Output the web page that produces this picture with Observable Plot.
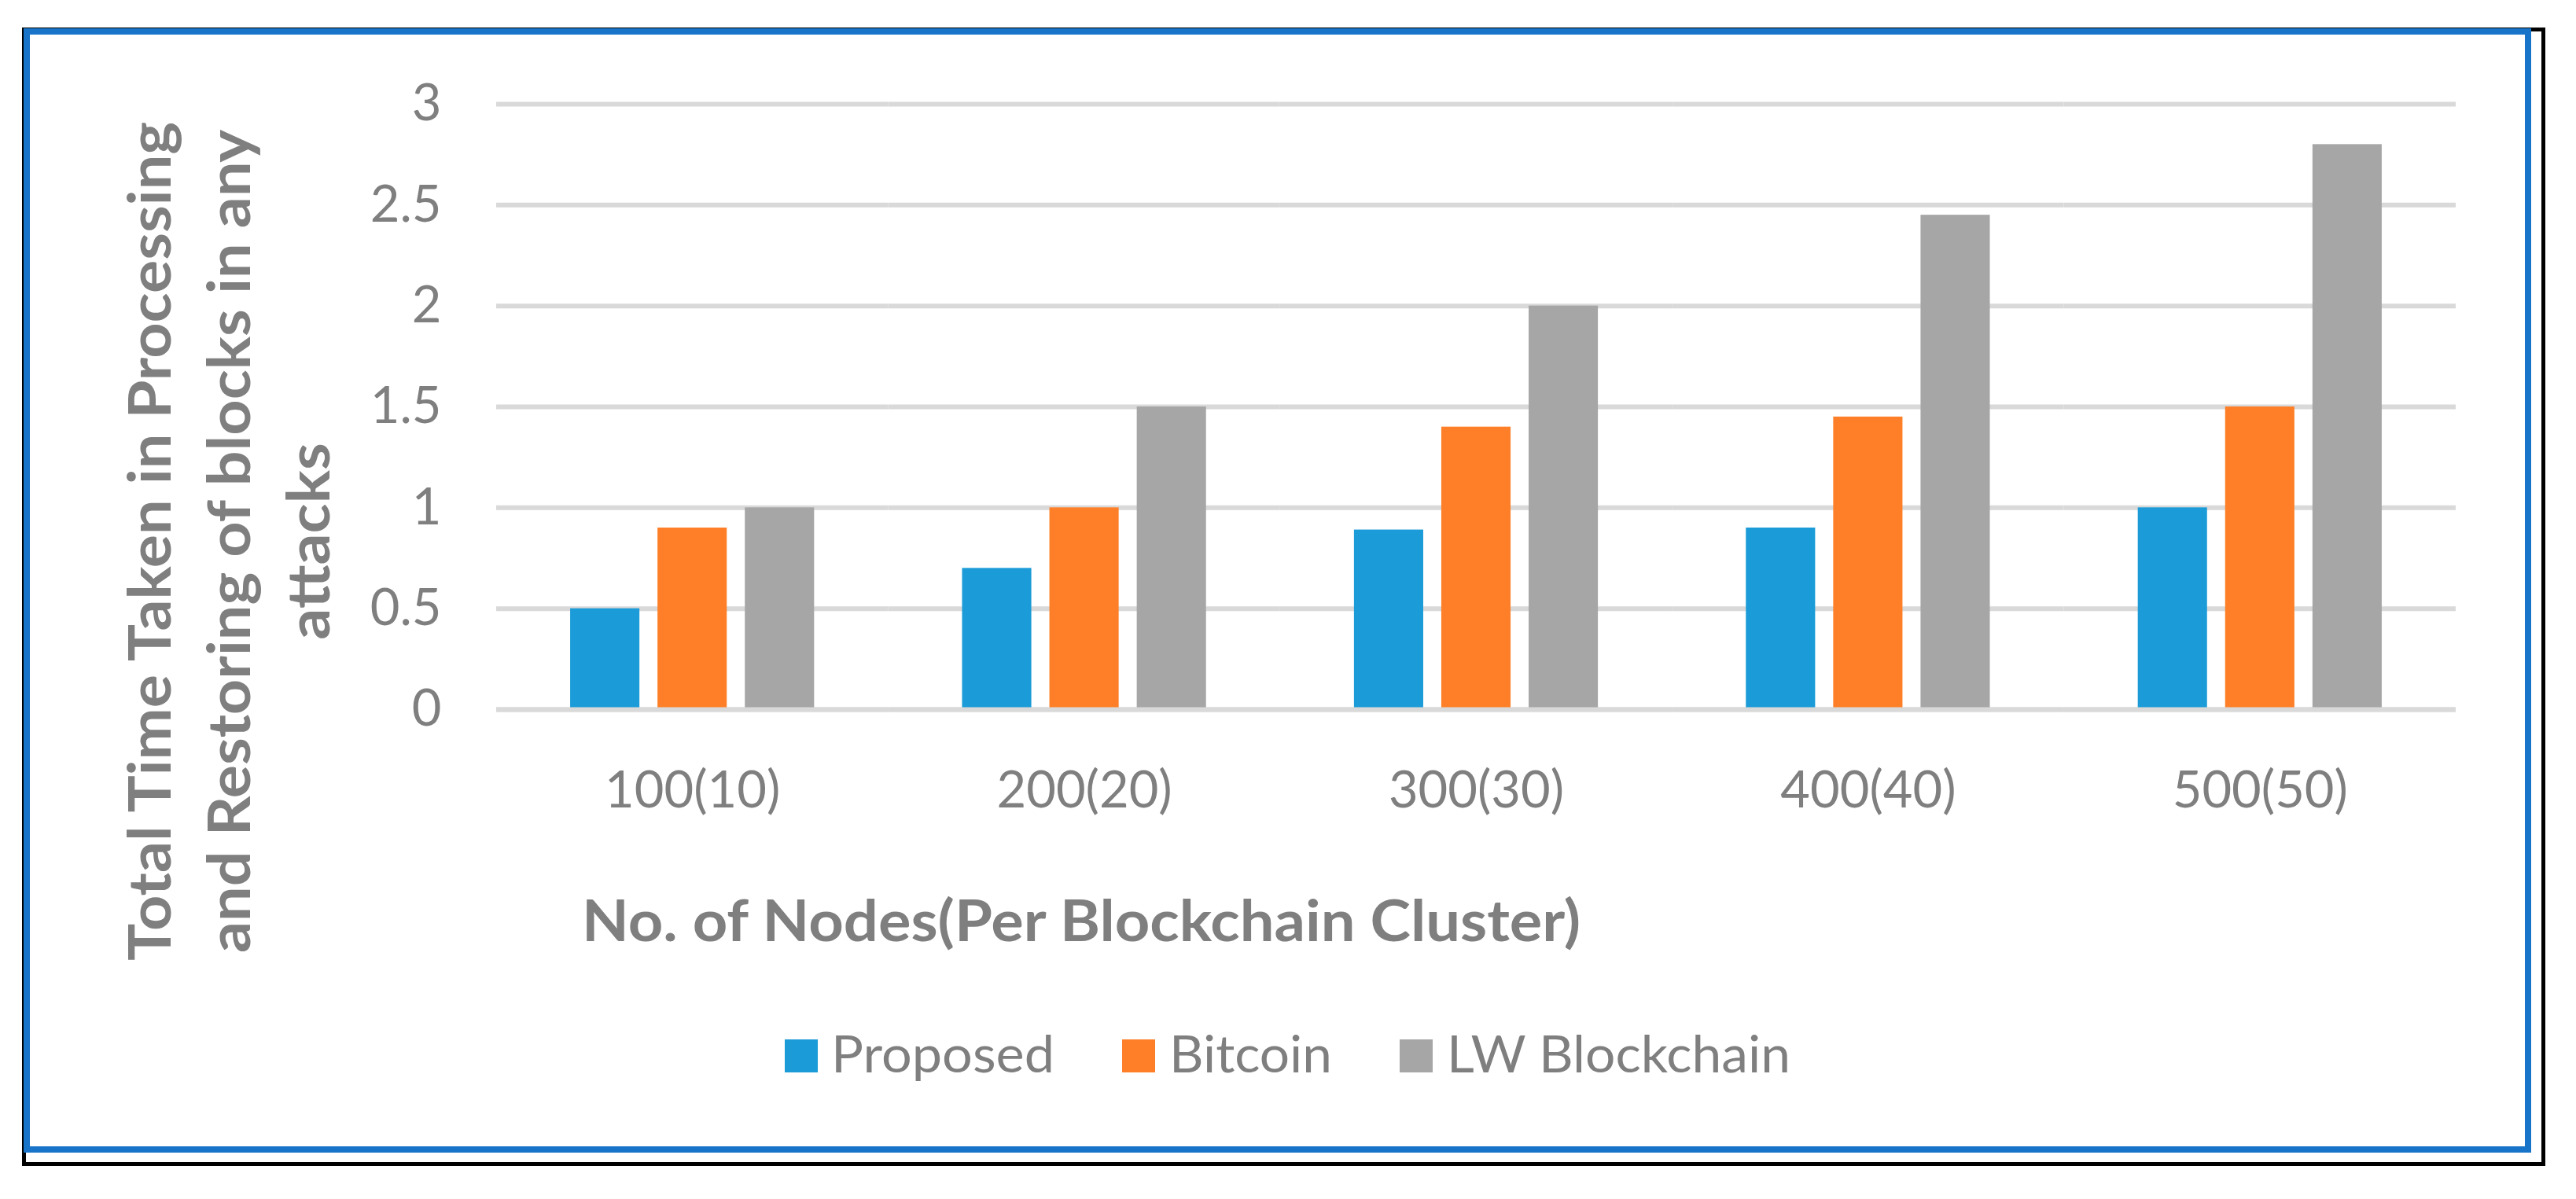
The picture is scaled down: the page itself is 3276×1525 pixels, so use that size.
<!DOCTYPE html>
<html><head><meta charset="utf-8">
<script src="https://cdn.jsdelivr.net/npm/d3@7"></script>
<script src="https://cdn.jsdelivr.net/npm/@observablehq/plot@0.6"></script>
<style>
html,body{margin:0;padding:0;background:#fff;}
#wrap{position:relative;width:3276px;height:1525px;overflow:hidden;background:#fff;font-family:Lato,"Open Sans",sans-serif;color:#7f7f7f;}
.abs{position:absolute;white-space:nowrap;}
.mk{display:inline-block;width:0;height:0;}
</style></head><body><div id="wrap"></div>
<script>
// ---- data ----
const categories = ["100(10)", "200(20)", "300(30)", "400(40)", "500(50)"];
const series = ["Proposed", "Bitcoin", "LW Blockchain"];
const proposed = [0.5, 0.7, 0.89, 0.9, 1.0];
const bitcoin = [0.9, 1.0, 1.4, 1.45, 1.5];
const lwBlockchain = [1.0, 1.5, 2.0, 2.45, 2.8];
const yTicks = [0, 0.5, 1, 1.5, 2, 2.5, 3];
const colors = ["#1b9bd7", "#fe7f27", "#a6a6a6"];
const yTitleLines = ["Total Time Taken in Processing", "and Restoring of blocks in any", "attacks"];
const xTitle = "No. of Nodes(Per Blockchain Cluster)";

const valuesBySeries = [proposed, bitcoin, lwBlockchain];
const data = [];
categories.forEach((c, i) => series.forEach((s, j) => data.push({cat: c, series: s, value: valuesBySeries[j][i]})));

const wrap = document.getElementById("wrap");

// frame borders
function box(l, t, r, b, bw, col) {
  const d = document.createElement("div");
  d.className = "abs";
  Object.assign(d.style, {left: l + "px", top: t + "px", width: (r - l - 2 * bw) + "px", height: (b - t - 2 * bw) + "px", border: bw + "px solid " + col});
  wrap.appendChild(d);
}
box(28, 35, 3237, 1483, 5, "#000");
box(30, 36, 3219, 1466, 8, "#1874c8");

// ---- chart ----
const chart = Plot.plot({
  width: 3276, height: 1100,
  marginLeft: 631, marginRight: 153, marginTop: 132, marginBottom: 198,
  style: {fontFamily: "Lato, sans-serif", fontSize: "65px", color: "#7f7f7f", background: "transparent"},
  fx: {domain: categories, padding: 0, round: false, label: null},
  x: {domain: series, paddingInner: 0.207, paddingOuter: 0.847, round: false, axis: null},
  y: {domain: [0, 3], label: null},
  color: {domain: series, range: colors},
  marks: [
    Plot.ruleY(yTicks, {stroke: "#d9d9d9", strokeWidth: 6}),
    Plot.barY(data, {fx: "cat", x: "series", y: "value", fill: "series"}),
    Plot.ruleY([0], {stroke: "#d9d9d9", strokeWidth: 6}),
    Plot.axisY({ticks: yTicks, tickSize: 0, tickPadding: 70, tickFormat: d => String(d), label: null, fontSize: 65}),
    Plot.axisFx({anchor: "bottom", tickSize: 0, tickPadding: 78, label: null, fontSize: 65})
  ]
});
chart.style.position = "absolute";
chart.style.left = "0px";
chart.style.top = "0px";
wrap.appendChild(chart);

// ---- y title (rotated, 3 lines) ----
const yt = document.createElement("div");
yt.className = "abs";
Object.assign(yt.style, {fontWeight: "700", fontSize: "75px", lineHeight: "101px", textAlign: "center", left: "0px", top: "0px"});
const spans = [];
yTitleLines.forEach((t, i) => {
  const line = document.createElement("div");
  const sp = document.createElement("span");
  sp.textContent = t;
  const mk = document.createElement("span"); mk.className = "mk";
  line.appendChild(sp); line.appendChild(mk);
  yt.appendChild(line);
  spans.push([sp, mk]);
});
wrap.appendChild(yt);
{
  const r0 = yt.getBoundingClientRect();
  const W = r0.width, H = r0.height;
  const b1 = spans[0][1].getBoundingClientRect().bottom - r0.top;
  const s = 1067 / spans[0][0].getBoundingClientRect().width;
  const cx = 217 - (b1 - H / 2), cy = 688;
  yt.style.left = (cx - W / 2) + "px";
  yt.style.top = (cy - H / 2) + "px";
  yt.style.transformOrigin = "50% 50%";
  yt.style.transform = `rotate(-90deg) scaleX(${s})`;
}

// ---- x title ----
const xt = document.createElement("div");
xt.className = "abs";
Object.assign(xt.style, {fontWeight: "700", fontSize: "72px", lineHeight: "72px", left: "740px", top: "0px"});
const xsp = document.createElement("span"); xsp.textContent = xTitle;
const xmk = document.createElement("span"); xmk.className = "mk";
xt.appendChild(xsp); xt.appendChild(xmk);
wrap.appendChild(xt);
{
  const r0 = xt.getBoundingClientRect();
  const base = xmk.getBoundingClientRect().bottom - r0.top;
  const s = 1270 / xsp.getBoundingClientRect().width;
  xt.style.top = (1197 - base) + "px";
  xt.style.transformOrigin = `0px ${base}px`;
  xt.style.transform = `scaleX(${s})`;
}

// ---- legend (below the chart) ----
const legendSwatchX = [998, 1427, 1780];
const legendTextX = [1057, 1487, 1840];
const legendTextW = [284, 207, 437];
series.forEach((s, i) => {
  const sw = document.createElement("div");
  sw.className = "abs";
  Object.assign(sw.style, {left: legendSwatchX[i] + "px", top: (1364 - 42) + "px", width: "42px", height: "42px", background: colors[i]});
  wrap.appendChild(sw);
  const tx = document.createElement("div");
  tx.className = "abs";
  Object.assign(tx.style, {left: legendTextX[i] + "px", top: "0px", fontSize: "65px", lineHeight: "80px"});
  const sp = document.createElement("span"); sp.textContent = s;
  const mk = document.createElement("span"); mk.className = "mk";
  tx.appendChild(sp); tx.appendChild(mk);
  wrap.appendChild(tx);
  const r0 = tx.getBoundingClientRect();
  const base = mk.getBoundingClientRect().bottom - r0.top;
  const sc = legendTextW[i] / sp.getBoundingClientRect().width;
  tx.style.top = (1364 - base) + "px";
  tx.style.transformOrigin = `0px ${base}px`;
  tx.style.transform = `scaleX(${sc})`;
});
</script></body></html>
